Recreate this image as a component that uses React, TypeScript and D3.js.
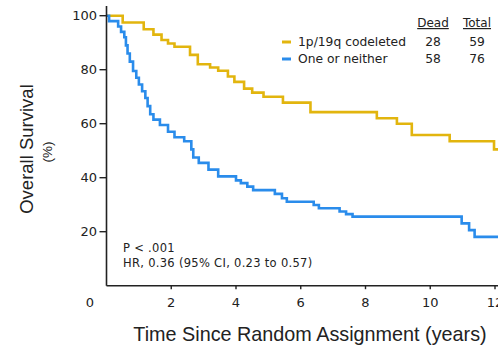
import React from 'react';
import * as d3 from 'd3';

const codelTimes = [0, 0.5, 1.15, 1.45, 1.7, 1.9, 2.1, 2.58, 2.82, 3.2, 3.45, 3.75, 3.95, 4.25, 4.5, 4.85, 5.45, 6.3, 8.35, 8.97, 9.43, 10.6, 11.97, 12.1];
const codelSurv = [100, 97.5, 95, 93, 91, 89.7, 88.5, 85.5, 82, 80.8, 79.6, 77.5, 75.5, 73, 71.5, 70, 67.8, 64.3, 62, 60, 55.8, 53.5, 50.5, 50.5];

const otherTimes = [0, 0.08, 0.36, 0.45, 0.55, 0.6, 0.65, 0.72, 0.82, 0.92, 1.0, 1.1, 1.2, 1.27, 1.35, 1.45, 1.65, 1.9, 2.1, 2.4, 2.62, 2.68, 2.85, 3.15, 3.45, 4.0, 4.15, 4.35, 4.53, 5.2, 5.42, 5.57, 6.4, 6.56, 7.2, 7.4, 7.6, 10.97, 11.2, 11.37, 12.1];
const otherSurv = [100, 98, 96, 94, 92, 89, 86, 83, 79.5, 77, 74.5, 72, 69.5, 66.5, 63.5, 61.5, 59.5, 57, 55, 53.5, 50.5, 47.5, 45.5, 43, 40.5, 39, 38, 36.7, 35.4, 34, 32.4, 31.1, 29.9, 28.7, 27.5, 26.5, 25.6, 23.1, 20.6, 18.1, 18.1];

const yTicks = [20, 40, 60, 80, 100];
const xTicks = [2, 4, 6, 8, 10, 12];

const legendNames = ['1p/19q codeleted', 'One or neither'];
const legendDead = ['28', '58'];
const legendTotal = ['59', '76'];
const colors = ['#E2B50E', '#2A8CEB'];

const stats = ['P < .001', 'HR, 0.36 (95% CI, 0.23 to 0.57)'];

export default function App() {
  const x = d3.scaleLinear().domain([0, 12]).range([106.5, 495]);
  const y = d3.scaleLinear().domain([0, 100]).range([285.7, 15.7]);
  const line = d3
    .line<[number, number]>()
    .x((d) => x(d[0]))
    .y((d) => y(d[1]))
    .curve(d3.curveStepAfter);
  const series = [
    codelTimes.map((t, i) => [t, codelSurv[i]] as [number, number]),
    otherTimes.map((t, i) => [t, otherSurv[i]] as [number, number]),
  ];
  const small = 'DejaVu Sans, sans-serif';
  const big = 'Liberation Sans, Arial, sans-serif';
  const axisColor = '#222';
  return (
    <svg width={498} height={346} style={{ position: 'absolute', left: 0, top: 0, background: '#fff' }}>
      <rect x={0} y={0} width={498} height={346} fill="#fff" />
      {series.map((s, i) => (
        <path key={i} d={line(s) || ''} fill="none" stroke={colors[i]} strokeWidth={2.6} strokeLinejoin="miter" />
      ))}
      <line x1={x(0)} x2={x(0)} y1={6} y2={y(0)} stroke={axisColor} strokeWidth={1.6} />
      <line x1={x(0)} x2={498} y1={y(0)} y2={y(0)} stroke={axisColor} strokeWidth={1.6} />
      {yTicks.map((t) => (
        <g key={t}>
          <line x1={x(0) - 7} x2={x(0)} y1={y(t)} y2={y(t)} stroke={axisColor} strokeWidth={1.4} />
          <text x={97} y={y(t)} dy="0.35em" textAnchor="end" fontFamily={small} fontSize={13} fill="#222">
            {t}
          </text>
        </g>
      ))}
      {xTicks.map((t) => (
        <g key={t}>
          <line x1={x(t)} x2={x(t)} y1={y(0)} y2={y(0) + 3.5} stroke={axisColor} strokeWidth={1.4} />
          <text x={x(t)} y={307} textAnchor="middle" fontFamily={small} fontSize={13} fill="#222">
            {t}
          </text>
        </g>
      ))}
      <text x={90} y={307} textAnchor="middle" fontFamily={small} fontSize={13} fill="#222">
        0
      </text>
      <text x={310} y={341} textAnchor="middle" fontFamily={big} fontSize={19.8} fill="#222">
        Time Since Random Assignment (years)
      </text>
      <text transform="translate(33,149) rotate(-90)" textAnchor="middle" fontFamily={big} fontSize={18.5} fill="#222">
        Overall Survival
      </text>
      <text transform="translate(52,152) rotate(-90)" textAnchor="middle" fontFamily={big} fontSize={13.5} fill="#222">
        (%)
      </text>
      <text x={433} y={27} textAnchor="middle" fontFamily={small} fontSize={12} fill="#222" textDecoration="underline">
        Dead
      </text>
      <text x={477} y={27} textAnchor="middle" fontFamily={small} fontSize={12} fill="#222" textDecoration="underline">
        Total
      </text>
      {legendNames.map((n, i) => (
        <g key={n}>
          <line x1={282} x2={291} y1={42 + i * 17} y2={42 + i * 17} stroke={colors[i]} strokeWidth={3} />
          <text x={298} y={42 + i * 17} dy="0.35em" fontFamily={small} fontSize={12.3} fill="#222">
            {n}
          </text>
          <text x={433} y={42 + i * 17} dy="0.35em" textAnchor="middle" fontFamily={small} fontSize={12.3} fill="#222">
            {legendDead[i]}
          </text>
          <text x={477} y={42 + i * 17} dy="0.35em" textAnchor="middle" fontFamily={small} fontSize={12.3} fill="#222">
            {legendTotal[i]}
          </text>
        </g>
      ))}
      {stats.map((s, i) => (
        <text key={s} x={123} y={252 + i * 15} fontFamily={small} fontSize={11.5} letterSpacing={0.3} fill="#222">
          {s}
        </text>
      ))}
    </svg>
  );
}
